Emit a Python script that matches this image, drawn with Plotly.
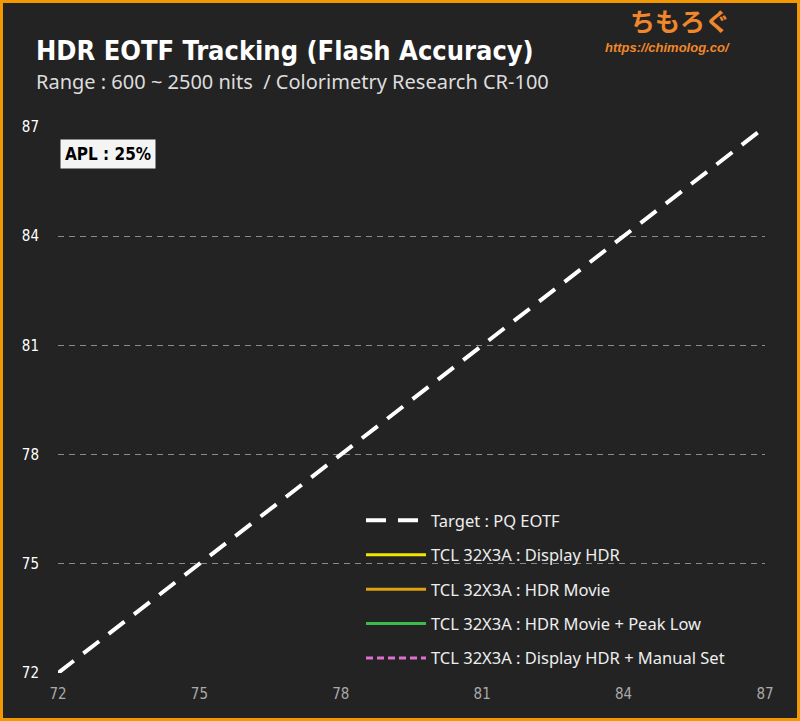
import plotly.graph_objects as go

# data
target_x = [72, 75, 78, 81, 84, 87]
target_y = [72, 75, 78, 81, 84, 87]

# measured series (no points fall inside the visible range)
display_hdr_x = []
display_hdr_y = []
hdr_movie_x = []
hdr_movie_y = []
peak_low_x = []
peak_low_y = []
manual_set_x = []
manual_set_y = []

tick_vals = [72, 75, 78, 81, 84, 87]

W, H = 800, 721
ml, mr, mt, mb = 58, 35, 127, 48
pw, ph = W - ml - mr, H - mt - mb
cond = "DejaVu Sans Condensed, Noto Sans"

fig = go.Figure()

fig.add_trace(go.Scatter(x=target_x, y=target_y, mode="lines", name="Target : PQ EOTF",
                         line=dict(color="white", width=4, dash="20px,12px"), legendgroup="a"))
# empty series still need a legend entry
fig.add_trace(go.Scatter(x=display_hdr_x or [None], y=display_hdr_y or [None], mode="lines",
                         name="TCL 32X3A : Display HDR",
                         line=dict(color="#f2e600", width=3), legendgroup="b"))
fig.add_trace(go.Scatter(x=hdr_movie_x or [None], y=hdr_movie_y or [None], mode="lines",
                         name="TCL 32X3A : HDR Movie",
                         line=dict(color="#e0a010", width=3), legendgroup="c"))
fig.add_trace(go.Scatter(x=peak_low_x or [None], y=peak_low_y or [None], mode="lines",
                         name="TCL 32X3A : HDR Movie + Peak Low",
                         line=dict(color="#3dbb4a", width=3), legendgroup="d"))
fig.add_trace(go.Scatter(x=manual_set_x or [None], y=manual_set_y or [None], mode="lines",
                         name="TCL 32X3A : Display HDR + Manual Set",
                         line=dict(color="#e070d0", width=3, dash="7px,4px"), legendgroup="e"))

fig.update_layout(
    width=W, height=H,
    margin=dict(l=ml, r=mr, t=mt, b=mb),
    paper_bgcolor="#232323", plot_bgcolor="#232323",
    font=dict(family="Noto Sans", color="white"),
    showlegend=True,
    legend=dict(x=(361 - ml) / pw, y=1 - (503 - mt) / ph, xanchor="left", yanchor="top",
                bgcolor="rgba(0,0,0,0)", font=dict(size=16.5, color="#eeeeee", family="Noto Sans"),
                tracegroupgap=10, itemwidth=60),
)

fig.update_xaxes(range=[72, 87], tickvals=tick_vals, showgrid=False, zeroline=False,
                 showline=False, ticks="", ticklabelstandoff=10,
                 tickfont=dict(family=cond, size=15, color="#aaaaaa"))
fig.update_yaxes(range=[72, 87], tickvals=tick_vals, showgrid=True, gridcolor="#8a8a8a",
                 griddash="6px,5px", gridwidth=1, zeroline=False, showline=False, ticks="",
                 ticklabelstandoff=18,
                 tickfont=dict(family=cond, size=15, color="white"))

# titles
fig.add_annotation(text="<b>HDR EOTF Tracking (Flash Accuracy)</b>", xref="paper", yref="paper",
                   x=-24 / pw, y=1 + (mt - 50) / ph, xanchor="left", yanchor="middle", showarrow=False,
                   font=dict(family=cond, size=27, color="white"))
fig.add_annotation(text="Range : 600 ~ 2500 nits  / Colorimetry Research CR-100", xref="paper", yref="paper",
                   x=-24 / pw, y=1 + (mt - 81) / ph, xanchor="left", yanchor="middle", showarrow=False,
                   font=dict(family="Noto Sans", size=20, color="#dddddd"))

# logo text
fig.add_annotation(text="<b>ちもろぐ</b>", xref="paper", yref="paper",
                   x=(732 - ml) / pw, y=1 + (mt - 20) / ph, xanchor="right", yanchor="middle", showarrow=False,
                   font=dict(family="Noto Sans CJK JP", size=25, color="#f0872a"))
fig.add_annotation(text="<b><i>https://chimolog.co/</i></b>", xref="paper", yref="paper",
                   x=(732 - ml) / pw, y=1 + (mt - 47) / ph, xanchor="right", yanchor="middle", showarrow=False,
                   font=dict(family="Liberation Sans", size=13, color="#f0872a"))

# APL label
fig.add_annotation(text="<b>APL : 25%</b>", xref="paper", yref="paper",
                   x=2 / pw, y=1 - 27 / ph, xanchor="left", yanchor="middle", showarrow=False,
                   bgcolor="#f4f4f4", borderpad=4,
                   font=dict(family=cond, size=17, color="black"))

# orange frame
fig.add_shape(type="rect", xref="paper", yref="paper",
              x0=-(ml - 1.5) / pw, x1=1 + (mr - 1.5) / pw,
              y0=-(mb - 1.5) / ph, y1=1 + (mt - 1.5) / ph,
              line=dict(color="#f39800", width=3), layer="above")

css = ("document.body.style.margin='0';"
       "var s=document.createElement('style');"
       "s.textContent='text[style*=\"Condensed\"]{font-stretch:condensed;}';"
       "document.head.appendChild(s);")
fig.write_html("out.html", config={"displayModeBar": False}, post_script=css)
